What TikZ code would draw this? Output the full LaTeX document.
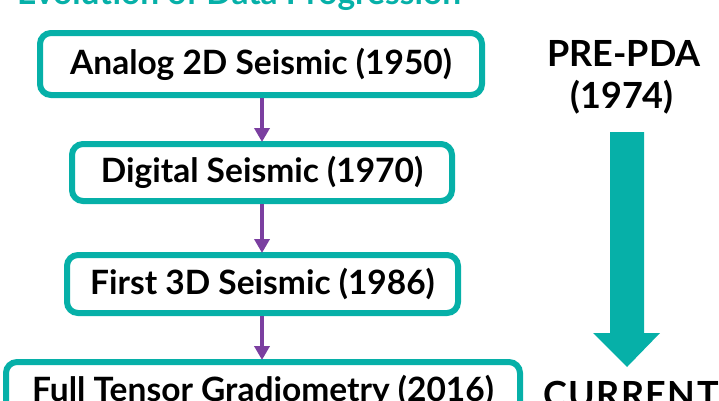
\documentclass[tikz,border=0pt]{standalone}
\usepackage{fontspec}
\setmainfont{Lato}
\usetikzlibrary{arrows.meta}
\definecolor{teal1}{HTML}{06B0A8}
\definecolor{purp}{HTML}{7B3FA0}
\begin{document}
\begin{tikzpicture}[x=1pt,y=-1pt,
  box/.style={draw=teal1, line width=6pt, rounded corners=11pt, fill=white,
    inner sep=0pt, font=\fontsize{33.5}{38}\selectfont\bfseries},
  flow/.style={draw=purp, line width=4pt, -{Triangle[width=15pt,length=14pt]}, shorten >=-1pt},
  lbl/.style={inner sep=0pt, anchor=base, font=\fontsize{36}{40}\selectfont\bfseries}]
\useasboundingbox (0,0) rectangle (719,400);
\clip (0,0) rectangle (719,400);
\node[inner sep=0pt, anchor=base west, text=teal1, font=\fontsize{33.5}{38}\selectfont\bfseries] (title) at (17,4) {Evolution of Data Progression};
\node[box, minimum width=442pt, minimum height=62pt] (b1) at (261,64) {Analog 2D Seismic (1950)};
\node[box, minimum width=380pt, minimum height=57pt] (b2) at (262,172.5) {Digital Seismic (1970)};
\node[box, minimum width=391pt, minimum height=58pt] (b3) at (262.5,284) {First 3D Seismic (1986)};
\node[box, minimum width=514pt, minimum height=58pt] (b4) at (263,391) {Full Tensor Gradiometry (2016)};
\draw[flow] (b1.south -| 262,0) -- (b2.north -| 262,0);
\draw[flow] (b2.south -| 262,0) -- (b3.north -| 262,0);
\draw[flow] (b3.south -| 262,0) -- (b4.north -| 262,0);
\node[lbl] (pre) at (624,66) {PRE-PDA};
\node[lbl] (yr) at (622,108) {(1974)};
\node[lbl, anchor=base west] (cur) at (543,407) {\addfontfeature{LetterSpace=4}CURRENT};
\fill[teal1] (610,132) -- (644,132) -- (644,333) -- (660,333) -- (627,367) -- (593,333) -- (610,333) -- cycle;
\end{tikzpicture}
\end{document}
